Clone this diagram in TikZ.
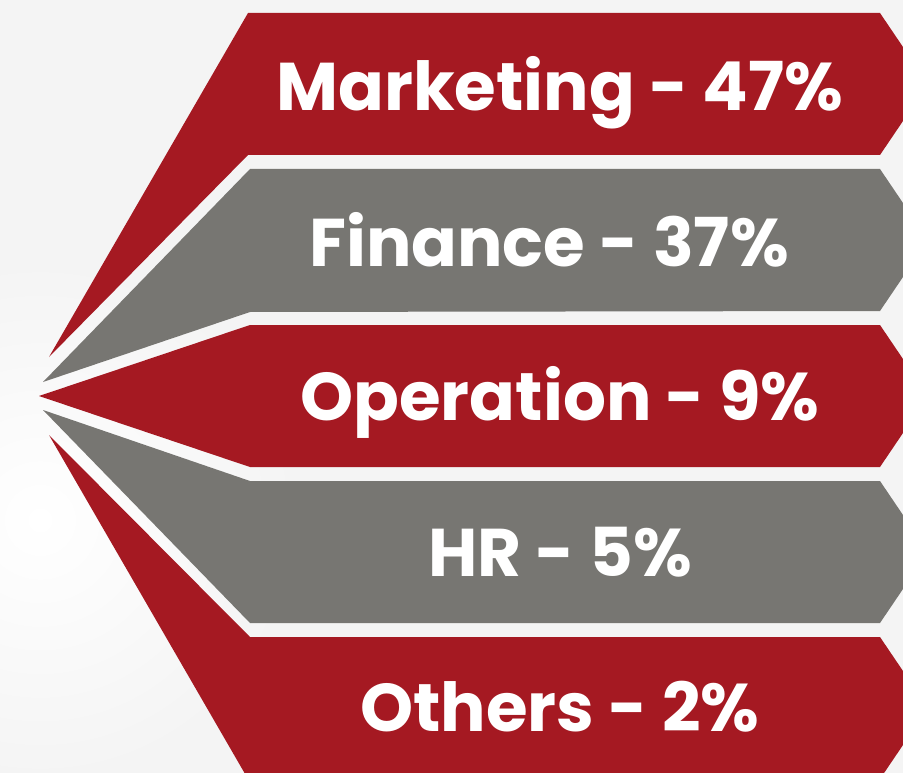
\documentclass[tikz,border=0pt]{standalone}
\usepackage{fontspec}
\setmainfont{Poppins}
\definecolor{bandred}{HTML}{A51922}
\definecolor{bandgray}{HTML}{777672}
\definecolor{bgcol}{HTML}{F4F4F4}
\begin{document}
\begin{tikzpicture}[x=1pt,y=-1pt,
  redband/.style={fill=bandred},
  grayband/.style={fill=bandgray},
  label/.style={text=white,font=\bfseries\fontsize{67.5}{67.5}\selectfont,anchor=base,inner sep=0pt}]
\useasboundingbox (0,0) rectangle (903,773);
\clip (0,0) rectangle (903,773);
\fill[bgcol] (0,0) rectangle (903,773);
\shade[inner color=white,outer color=bgcol] (40,520) circle (260);
% bands
\fill[redband]  (49,357) -- (248,13)  -- (880,13)  -- (928,84)  -- (880,155) -- (248,155) -- cycle;
\fill[grayband] (43,382) -- (250,169) -- (880,169) -- (928,240) -- (880,311) -- (250,312) -- cycle;
\fill[redband]  (39,396) -- (250,325) -- (880,325) -- (928,396) -- (880,467) -- (250,467) -- cycle;
\fill[grayband] (43,410) -- (250,481) -- (880,481) -- (928,552) -- (880,623) -- (250,623) -- cycle;
\fill[redband]  (49,435) -- (250,637) -- (880,637) -- (928,708) -- (880,779) -- (248,779) -- cycle;
% labels
\node[label] (mkt) at (560,111) {Marketing - 47\%};
\node[label] (fin) at (549,266) {Finance - 37\%};
\node[label] (ops) at (560,420) {Operation - 9\%};
\node[label] (hr)  at (560,576) {HR - 5\%};
\node[label] (oth) at (560,731) {Others - 2\%};
\end{tikzpicture}
\end{document}
